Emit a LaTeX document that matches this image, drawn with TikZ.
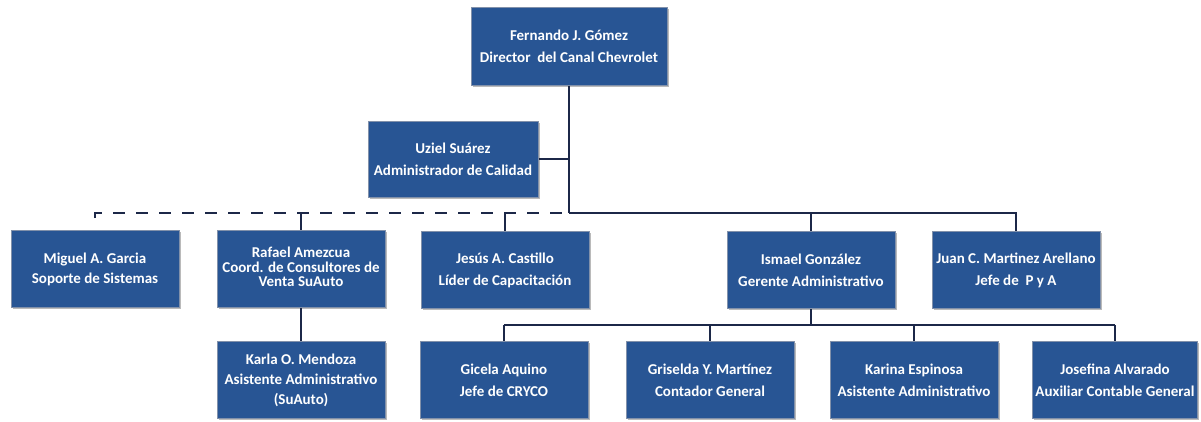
\documentclass[tikz,border=0pt]{standalone}
\usepackage{fontspec}
\setmainfont{Carlito}
\usetikzlibrary{shadows}
\begin{document}
\begin{tikzpicture}[x=1pt,y=-1pt,
  box/.style={draw={rgb,255:red,130;green,145;blue,170}, line width=1pt,
    fill={rgb,255:red,40;green,85;blue,148}, text=white,
    drop shadow={shadow xshift=1.5pt, shadow yshift=-1.5pt, fill=black!45, opacity=0.6},
    font=\fontsize{15}{22}\selectfont\bfseries, align=center,
    minimum width=168pt, minimum height=77pt, inner sep=0pt},
  tight/.style={font=\fontsize{15}{14.5}\selectfont\bfseries},
  mid/.style={font=\fontsize{15}{20}\selectfont\bfseries},
  link/.style={draw={rgb,255:red,28;green,40;blue,72}, line width=2.4pt},
  dashlink/.style={link, dash pattern=on 12pt off 11pt}]
\useasboundingbox (0,0) rectangle (1201,421);

% top level
\node[box, minimum width=196pt, minimum height=78pt] (dir) at (569,46)
  {Fernando J. Gómez\\Director\ \ del Canal Chevrolet};
\node[box, minimum width=170pt, minimum height=76pt] (uz) at (453,159)
  {Uziel Suárez\\Administrador de Calidad};

% second level
\node[box, mid] (mig) at (95,269) {Miguel A. Garcia\\Soporte de Sistemas};
\node[box, tight, text depth=4pt] (raf) at (301,269) {Rafael Amezcua\\Coord. de Consultores de\\Venta SuAuto};
\node[box] (jes) at (505,270) {Jesús A. Castillo\\Líder de Capacitación};
\node[box] (ism) at (811,270) {Ismael González\\Gerente Administrativo};
\node[box] (jua) at (1016,270) {Juan C. Martinez Arellano\\Jefe de\ \ P y A};

% third level
\node[box, mid] (kar) at (301,380) {Karla O. Mendoza\\Asistente Administrativo\\(SuAuto)};
\node[box] (gic) at (504,380) {Gicela Aquino\\Jefe de CRYCO};
\node[box] (gri) at (710,380) {Griselda Y. Martínez\\Contador General};
\node[box] (kae) at (914,380) {Karina Espinosa\\Asistente Administrativo};
\node[box, minimum width=165pt] (jos) at (1115,380) {Josefina Alvarado\\Auxiliar Contable General};

% bus lines
\coordinate (trunk) at (569,213);
\coordinate (mtick) at (95,218);
\coordinate (lbus) at (95,213);
\coordinate (sub) at (811,325);

\draw[link] (dir.south) -- (trunk);
\draw[link] (uz.east) -- (uz.east -| trunk);
\draw[dashlink] (mtick) -- (lbus) -- (trunk);
\draw[link] (trunk) -- (trunk -| jua) -- (jua.north);
\draw[link] (raf.north |- trunk) -- (raf.north);
\draw[link] (jes.north |- trunk) -- (jes.north);
\draw[link] (ism.north |- trunk) -- (ism.north);
\draw[link] (raf.south) -- (kar.north);

\draw[link] (ism.south) -- (sub);
\draw[link] (sub -| gic) -- (sub -| jos);
\draw[link] (sub -| gic) -- (gic.north);
\draw[link] (sub -| gri) -- (gri.north);
\draw[link] (sub -| kae) -- (kae.north);
\draw[link] (sub -| jos) -- (jos.north);
\end{tikzpicture}
\end{document}
